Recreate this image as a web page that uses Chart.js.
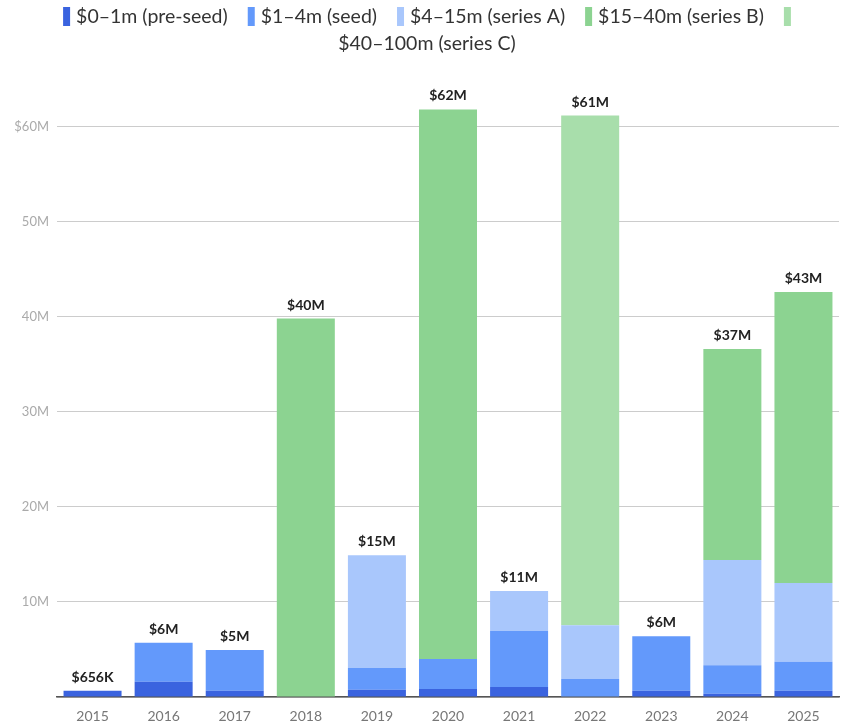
<!DOCTYPE html>
<html>
<head>
<meta charset="utf-8">
<script src="https://cdn.jsdelivr.net/npm/chart.js@4"></script>
<style>
  body { margin: 0; background: #fff; }
  #wrap { width: 848px; height: 725px; }
</style>
</head>
<body>
<div id="wrap"><canvas id="Funding" width="848" height="725"></canvas></div>
<script>
// values in $M
const years = ["2015", "2016", "2017", "2018", "2019", "2020", "2021", "2022", "2023", "2024", "2025"];
const preSeed = [0.656, 1.6, 0.65, 0, 0.75, 0.85, 1.05, 0, 0.65, 0.35, 0.65];
const seed = [0, 4.1, 4.3, 0, 2.3, 3.15, 5.9, 1.9, 5.75, 3.0, 3.05];
const seriesA = [0, 0, 0, 0, 11.85, 0, 4.2, 5.65, 0, 11.05, 8.3];
const seriesB = [0, 0, 0, 39.8, 0, 57.8, 0, 0, 0, 22.2, 30.6];
const seriesC = [0, 0, 0, 0, 0, 0, 0, 53.6, 0, 0, 0];
const seriesNames = ["$0–1m (pre-seed)", "$1–4m (seed)", "$4–15m (series A)", "$15–40m (series B)", "$40–100m (series C)"];
const yTickLabels = { 10: "10M", 20: "20M", 30: "30M", 40: "40M", 50: "50M", 60: "$60M" };

const colors = ["#3a63df", "#6399fb", "#a9c7fc", "#8cd391", "#a8deab"];
const FONT = "Lato, 'Noto Sans', sans-serif";

function fmtTotal(t) {
  if (t < 1) return "$" + Math.round(t * 1000) + "K";
  return "$" + Math.round(t) + "M";
}

// totals above each stack
const totalLabels = {
  id: "totalLabels",
  afterDatasetsDraw(chart) {
    const ctx = chart.ctx;
    const x = chart.scales.x;
    const y = chart.scales.y;
    ctx.save();
    ctx.font = "bold 14px " + FONT;
    ctx.fillStyle = "#222";
    ctx.textAlign = "center";
    ctx.textBaseline = "alphabetic";
    years.forEach((yr, i) => {
      const t = preSeed[i] + seed[i] + seriesA[i] + seriesB[i] + seriesC[i];
      ctx.fillText(fmtTotal(t), x.getPixelForValue(i), y.getPixelForValue(t) - 9);
    });
    ctx.restore();
  },
};

// legend: swatches and texts flow separately, like the original
const flowLegend = {
  id: "flowLegend",
  afterDraw(chart) {
    const ctx = chart.ctx;
    ctx.save();
    ctx.font = "19.5px " + FONT;
    const tokens = [];
    seriesNames.forEach((name, i) => {
      tokens.push({ kind: "box", w: 7, color: colors[i], gap: 6 });
      tokens.push({ kind: "text", w: ctx.measureText(name).width, text: name, gap: 20 });
    });
    const maxW = 820;
    const lines = [[]];
    let cur = 0;
    tokens.forEach((tk) => {
      const line = lines[lines.length - 1];
      const add = (line.length ? line[line.length - 1].gap : 0) + tk.w;
      if (line.length && cur + add > maxW) {
        lines.push([tk]);
        cur = tk.w;
      } else {
        line.push(tk);
        cur += add;
      }
    });
    lines.forEach((line, li) => {
      let w = 0;
      line.forEach((tk, k) => { w += tk.w + (k < line.length - 1 ? tk.gap : 0); });
      let xPos = (chart.width - w) / 2 + 3;
      const cy = 17 + li * 27;
      line.forEach((tk) => {
        if (tk.kind === "box") {
          ctx.fillStyle = tk.color;
          ctx.fillRect(xPos, cy - 10, tk.w, 19);
        } else {
          ctx.fillStyle = "#333";
          ctx.textBaseline = "middle";
          ctx.fillText(tk.text, xPos, cy);
        }
        xPos += tk.w + tk.gap;
      });
    });
    ctx.restore();
  },
};

function createFundingChart() {
  const canvas = document.querySelector("#Funding");
  const data = [preSeed, seed, seriesA, seriesB, seriesC];
  const options = {
    type: "bar",
    data: {
      labels: years,
      datasets: data.map((vals, i) => ({
        label: seriesNames[i],
        data: vals,
        backgroundColor: colors[i],
        borderWidth: 0,
        barPercentage: 0.816,
        categoryPercentage: 1,
      })),
    },
    options: {
      responsive: false,
      animation: false,
      layout: { padding: { top: 79, right: 9, left: 0, bottom: 0 } },
      scales: {
        x: {
          stacked: true,
          grid: { display: false },
          border: { color: "#555", width: 1.5 },
          ticks: { color: "#777", font: { family: FONT, size: 14 }, padding: 3 },
          afterFit(scale) { scale.height = 28; },
        },
        y: {
          stacked: true,
          min: 0,
          max: 65,
          border: { display: false },
          grid: { color: "#ccc", lineWidth: 1, drawTicks: false },
          ticks: {
            stepSize: 10,
            includeBounds: false,
            color: "#aaa",
            font: { family: FONT, size: 13 },
            padding: 8,
            callback: (v) => yTickLabels[v] || "",
          },
          afterFit(scale) { scale.width = 57; },
        },
      },
      plugins: {
        legend: { display: false },
        tooltip: { enabled: false },
      },
    },
    plugins: [totalLabels, flowLegend],
  };
  new Chart(canvas.getContext("2d"), options);
}

createFundingChart();
</script>
</body>
</html>
